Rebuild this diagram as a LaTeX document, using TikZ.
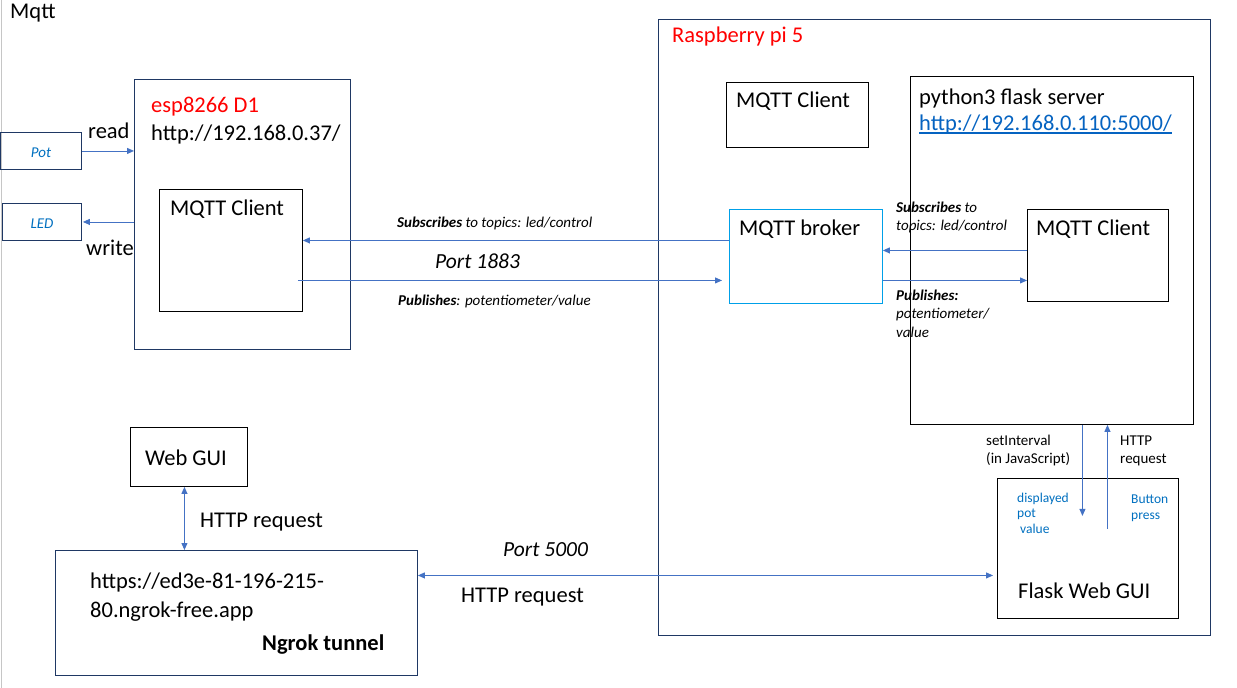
\documentclass[tikz,border=0pt]{standalone}
\usepackage{fontspec}
\setmainfont{Carlito}
\usetikzlibrary{arrows.meta}
\definecolor{navy}{RGB}{31,56,100}
\definecolor{arrblue}{RGB}{68,114,196}
\definecolor{brokerblue}{RGB}{0,160,232}
\definecolor{txtblue}{RGB}{0,112,192}
\definecolor{linkblue}{RGB}{5,99,193}
\tikzset{
  boxn/.style={draw=navy, line width=0.9pt, inner sep=0pt, anchor=north west},
  boxk/.style={draw=black, line width=0.9pt, inner sep=0pt, anchor=north west},
  t/.style={anchor=base west, inner sep=0pt, font=\fontsize{22.5}{26}\selectfont},
  ts/.style={anchor=base west, inner sep=0pt, font=\fontsize{15}{18}\selectfont\itshape},
  tm/.style={anchor=base west, inner sep=0pt, font=\fontsize{15}{18}\selectfont},
  tb/.style={anchor=base west, inner sep=0pt, font=\fontsize{13.5}{16}\selectfont, text=txtblue},
  arr/.style={draw=arrblue, line width=0.9pt, -{Triangle[length=7pt,width=6pt]}},
  darr/.style={draw=arrblue, line width=0.9pt, {Triangle[length=7pt,width=6pt]}-{Triangle[length=7pt,width=6pt]}},
}
\begin{document}
\begin{tikzpicture}[x=1pt,y=-1pt]
\useasboundingbox (0,0) rectangle (1237,688);
\fill[white] (0,0) rectangle (1237,688);
\draw[gray!45, line width=1pt] (1.5,0) -- (1.5,688);
\node[t] (title) at (10,19) {Mqtt};

% left devices
\node[boxn, minimum width=81pt, minimum height=37pt] (pot) at (0,132) {};
\node[anchor=base, inner sep=0pt, font=\fontsize{15}{18}\selectfont\itshape, text=txtblue] (pottxt) at (41,157) {Pot};
\node[boxn, minimum width=79pt, minimum height=37pt] (led) at (2,203) {};
\node[anchor=base, inner sep=0pt, font=\fontsize{15}{18}\selectfont\itshape, text=txtblue] (ledtxt) at (42,228) {LED};
\node[t] (read) at (88,138) {read};
\node[t] (write) at (86,255) {write};

% esp
\node[boxn, minimum width=216pt, minimum height=270pt] (esp) at (134,79) {};
\node[t, text=red] (espname) at (151,112) {esp8266 D1};
\node[t] (espurl) at (151,140) {http://192.168.0.37/};
\node[boxk, minimum width=143pt, minimum height=122pt] (espc) at (159,189) {};
\node[t] (espctxt) at (170,215) {MQTT Client};

\draw[arr] (pot.east) -- (pot.east -| esp.west);
\draw[arr, shorten >=1pt] (led.east -| esp.west) -- (led.east);

% raspberry
\node[boxn, minimum width=552pt, minimum height=616pt] (rpi) at (658,19) {};
\node[t, text=red] (rpiname) at (672,42) {Raspberry pi 5};
\node[boxk, minimum width=142pt, minimum height=65pt] (topc) at (726,82) {};
\node[t] (topctxt) at (736,107) {MQTT Client};
\node[boxk, minimum width=283pt, minimum height=348pt] (py) at (910,76) {};
\node[t] (pytxt) at (919,104) {python3 flask server};
\node[t, text=linkblue] (pyurl) at (919,130) {http://192.168.0.110:5000/};
\draw[linkblue, line width=1.6pt] ([yshift=-3pt]pyurl.base west) -- ([yshift=-3pt]pyurl.base east);
\node[draw=brokerblue, line width=0.9pt, inner sep=0pt, anchor=north west, minimum width=153pt, minimum height=94pt] (broker) at (729,209) {};
\node[t] (brokertxt) at (739,235) {MQTT broker};
\node[boxk, minimum width=141pt, minimum height=92pt] (rc) at (1027,209) {};
\node[t] (rctxt) at (1036,235) {MQTT Client};
\node[boxk, minimum width=181pt, minimum height=140pt] (flask) at (997,478) {};
\node[t] (flasktxt) at (1018,598) {Flask Web GUI};
\node[tb] (d1) at (1017,502) {displayed};
\node[tb] (d2) at (1017,517) {pot};
\node[tb] (d3) at (1020,533) {value};
\node[tb] (b1) at (1131,503) {Button};
\node[tb] (b2) at (1131,519) {press};

% esp <-> broker
\draw[arr] ([yshift=16pt]broker.west) -- ([yshift=16pt]broker.west -| espc.east);
\coordinate (pubstart) at ([shift={(-5pt,-30pt)}]espc.east);
\draw[arr, shorten >=7pt] (pubstart) -- (pubstart -| broker.west);
\node[ts] (sub1) at (397,227) {\textbf{Subscribes} to topics: led/control};
\node[anchor=base west, inner sep=0pt, font=\fontsize{21.5}{25}\selectfont\itshape] (p1883) at (435,268) {Port 1883};
\node[ts] (pub1) at (398,305) {\textbf{Publishes}: potentiometer/value};

% broker <-> right client
\draw[arr] ([yshift=5pt]rc.west) -- ([yshift=5pt]rc.west -| broker.east);
\draw[arr] ([yshift=-25pt]rc.west -| broker.east) -- ([yshift=-25pt]rc.west);
\node[ts] (sub2a) at (896,212) {\textbf{Subscribes} to};
\node[ts] (sub2b) at (896,230) {topics: led/control};
\node[ts] (pub2a) at (896,300) {\textbf{Publishes:}};
\node[ts] (pub2b) at (896,318) {potentiometer/};
\node[ts] (pub2c) at (896,337) {value};

% py <-> flask
\draw[arr] ([xshift=30.5pt]py.south) -- ++(0,91);
\draw[arr] ([xshift=55.5pt,yshift=-104pt]py.south) -- ([xshift=55.5pt]py.south);
\node[tm] (si1) at (986,445) {setInterval};
\node[tm] (si2) at (986,463) {(in JavaScript)};
\node[tm] (hr1) at (1120,445) {HTTP};
\node[tm] (hr2) at (1120,463) {request};

% bottom left
\node[boxk, minimum width=117pt, minimum height=59pt] (webgui) at (130,427) {};
\node[t] (webguitxt) at (145,465) {Web GUI};
\node[boxn, minimum width=362pt, minimum height=125pt] (ngrok) at (55,550) {};
\node[t] (ng1) at (90,588) {https://ed3e-81-196-215-};
\node[t] (ng2) at (90,617) {80.ngrok-free.app};
\node[t, font=\fontsize{22.5}{26}\selectfont\bfseries] (ng3) at (262,650) {Ngrok tunnel};
\coordinate (wg) at ([xshift=-4.5pt]webgui.south);
\draw[darr] (wg) -- (wg |- ngrok.north);
\node[t] (hrl) at (200,527) {HTTP request};

\coordinate (ngr) at ([yshift=37.5pt]ngrok.east);
\draw[darr, shorten >=4pt] (ngr) -- (ngr -| flask.west);
\node[anchor=base west, inner sep=0pt, font=\fontsize{21.5}{25}\selectfont\itshape] (p5000) at (503,556) {Port 5000};
\node[t] (hrb) at (461,602) {HTTP request};
\end{tikzpicture}
\end{document}
